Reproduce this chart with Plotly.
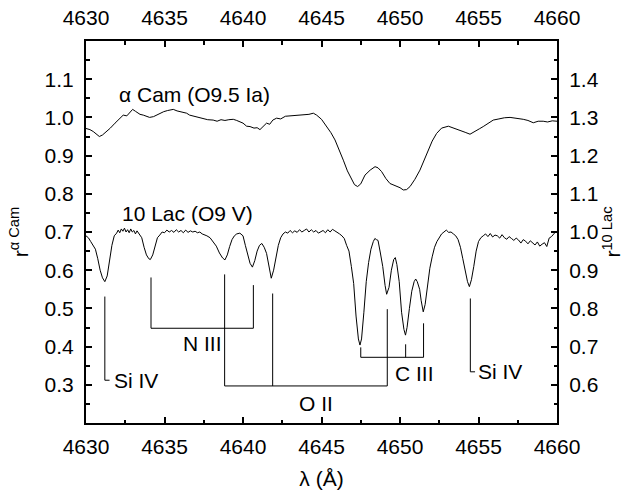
import plotly.graph_objects as go

# ---------------- data ----------------
# alpha Cam spectrum (left axis, r^alpha Cam)
acam_wl = [4630.00, 4630.25, 4630.46, 4630.65, 4630.85, 4631.05, 4631.31, 4631.55, 4631.85, 4632.1,
           4632.37, 4632.6, 4632.8, 4632.97, 4633.15, 4633.3, 4633.44, 4633.65, 4633.86, 4634.05,
           4634.3, 4634.5, 4634.71, 4634.95, 4635.2, 4635.4, 4635.56, 4635.8, 4636.05, 4636.25,
           4636.41, 4636.6, 4636.8, 4637.0, 4637.26, 4637.5, 4637.75, 4638.1, 4638.35, 4638.6,
           4638.85, 4639.1, 4639.38, 4639.6, 4639.81, 4640.0, 4640.23, 4640.45, 4640.7, 4640.9,
           4641.08, 4641.3, 4641.5, 4641.7, 4641.9, 4642.14, 4642.4, 4642.7, 4643.0, 4643.3,
           4643.6, 4643.9, 4644.2, 4644.48, 4644.69, 4645.0, 4645.33, 4645.6, 4645.86, 4646.1,
           4646.39, 4646.65, 4646.92, 4647.1, 4647.3, 4647.5, 4647.77, 4648.1, 4648.41, 4648.6,
           4648.83, 4649.1, 4649.36, 4649.58, 4649.78, 4650.0, 4650.21, 4650.42, 4650.64, 4650.95,
           4651.27, 4651.55, 4651.8, 4652.05, 4652.33, 4652.65, 4653.08, 4653.45, 4653.82, 4654.15,
           4654.46, 4654.8, 4655.05, 4655.3, 4655.6, 4655.94, 4656.3, 4656.65, 4657.01, 4657.4,
           4657.85, 4658.15, 4658.49, 4658.8, 4659.12, 4659.4, 4659.7, 4660.0]
acam_r = [0.971, 0.968, 0.963, 0.957, 0.950, 0.954, 0.963, 0.972, 0.985, 0.995,
          1.006, 1.004, 1.013, 1.021, 1.016, 1.012, 1.008, 1.006, 1.002, 1.000,
          1.002, 1.006, 1.011, 1.015, 1.018, 1.020, 1.021, 1.017, 1.014, 1.012,
          1.011, 1.006, 1.004, 1.001, 0.998, 0.996, 0.994, 0.993, 0.990, 0.994,
          0.992, 0.994, 0.995, 0.992, 0.989, 0.985, 0.977, 0.976, 0.972, 0.973,
          0.968, 0.976, 0.985, 0.982, 0.993, 0.998, 0.996, 1.003, 1.004, 1.005,
          1.006, 1.007, 1.008, 1.011, 1.006, 0.995, 0.976, 0.960, 0.941, 0.918,
          0.888, 0.860, 0.836, 0.824, 0.819, 0.826, 0.849, 0.862, 0.871, 0.868,
          0.858, 0.840, 0.827, 0.823, 0.820, 0.816, 0.810, 0.811, 0.819, 0.838,
          0.862, 0.890, 0.915, 0.938, 0.958, 0.972, 0.977, 0.972, 0.967, 0.961,
          0.956, 0.963, 0.970, 0.976, 0.985, 0.993, 0.996, 0.999, 1.000, 0.998,
          0.995, 0.992, 0.986, 0.990, 0.990, 0.988, 0.991, 0.990]

# 10 Lac spectrum (right axis, r^10 Lac)
lac_wl = [4630.00, 4630.15, 4630.30, 4630.45, 4630.60, 4630.75, 4630.90, 4631.05, 4631.20, 4631.35,
          4631.50, 4631.65, 4631.80, 4631.95, 4632.05, 4632.15, 4632.25, 4632.35, 4632.45, 4632.55,
          4632.65, 4632.75, 4632.85, 4632.95, 4633.05, 4633.15, 4633.25, 4633.35, 4633.45, 4633.55,
          4633.70, 4633.85, 4634.00, 4634.10, 4634.25, 4634.40, 4634.55, 4634.70, 4634.85, 4635.00,
          4635.15, 4635.30, 4635.45, 4635.60, 4635.75, 4635.90, 4636.05, 4636.20, 4636.35, 4636.50,
          4636.65, 4636.80, 4636.95, 4637.10, 4637.25, 4637.40, 4637.55, 4637.70, 4637.90, 4638.10,
          4638.30, 4638.50, 4638.70, 4638.85, 4639.00, 4639.15, 4639.30, 4639.45, 4639.60, 4639.80,
          4640.00, 4640.15, 4640.30, 4640.45, 4640.60, 4640.75, 4640.90, 4641.05, 4641.20, 4641.35,
          4641.50, 4641.65, 4641.80, 4641.95, 4642.10, 4642.25, 4642.40, 4642.55, 4642.70, 4642.85,
          4643.00, 4643.15, 4643.30, 4643.45, 4643.60, 4643.75, 4643.90, 4644.05, 4644.20, 4644.35,
          4644.50, 4644.65, 4644.80, 4644.95, 4645.10, 4645.25, 4645.40, 4645.55, 4645.70, 4645.85,
          4646.00, 4646.15, 4646.30, 4646.45, 4646.60, 4646.75, 4646.90, 4647.05, 4647.20, 4647.35,
          4647.45, 4647.55, 4647.70, 4647.85, 4648.00, 4648.15, 4648.30, 4648.40, 4648.50, 4648.60,
          4648.75, 4648.90, 4649.05, 4649.15, 4649.30, 4649.45, 4649.60, 4649.70, 4649.80, 4649.95,
          4650.10, 4650.25, 4650.35, 4650.45, 4650.60, 4650.75, 4650.90, 4651.00, 4651.10, 4651.25,
          4651.35, 4651.48, 4651.60, 4651.75, 4651.90, 4652.05, 4652.20, 4652.35, 4652.50, 4652.65,
          4652.80, 4652.95, 4653.10, 4653.25, 4653.40, 4653.55, 4653.70, 4653.85, 4654.00, 4654.15,
          4654.30, 4654.42, 4654.55, 4654.70, 4654.85, 4655.00, 4655.15, 4655.30, 4655.45, 4655.60,
          4655.75, 4655.90, 4656.05, 4656.20, 4656.35, 4656.50, 4656.65, 4656.80, 4656.95, 4657.10,
          4657.25, 4657.40, 4657.55, 4657.70, 4657.85, 4658.00, 4658.15, 4658.30, 4658.45, 4658.60,
          4658.75, 4658.90, 4659.05, 4659.20, 4659.35, 4659.50, 4659.65, 4659.80, 4659.90, 4660.00]
lac_r = [0.990, 0.985, 0.975, 0.965, 0.955, 0.930, 0.900, 0.880, 0.870, 0.885,
         0.925, 0.965, 0.990, 0.997, 1.005, 0.998, 1.008, 1.002, 1.010, 1.000,
         1.006, 0.998, 1.008, 1.000, 1.004, 0.995, 1.003, 0.998, 0.990, 0.985,
         0.960, 0.940, 0.930, 0.928, 0.940, 0.965, 0.985, 0.992, 1.000, 0.998,
         1.005, 1.000, 1.004, 0.999, 1.006, 1.000, 1.004, 0.998, 1.005, 0.999,
         1.003, 1.000, 1.002, 0.998, 1.000, 0.995, 0.993, 0.990, 0.985, 0.975,
         0.963, 0.945, 0.932, 0.927, 0.940, 0.962, 0.980, 0.990, 0.995, 0.997,
         0.990, 0.965, 0.940, 0.918, 0.908, 0.925, 0.950, 0.965, 0.970, 0.960,
         0.944, 0.910, 0.879, 0.900, 0.935, 0.965, 0.985, 0.995, 1.000, 0.997,
         1.004, 0.998, 1.003, 0.999, 1.006, 1.000, 1.004, 1.008, 1.000, 1.006,
         1.000, 1.004, 0.997, 1.000, 1.004, 0.998, 1.006, 1.000, 1.007, 1.003,
         1.000, 0.995, 0.990, 0.983, 0.965, 0.950, 0.910, 0.865, 0.780, 0.720,
         0.704, 0.720, 0.790, 0.870, 0.920, 0.955, 0.975, 0.983, 0.980, 0.978,
         0.945, 0.910, 0.860, 0.837, 0.855, 0.900, 0.928, 0.933, 0.915, 0.870,
         0.790, 0.745, 0.730, 0.750, 0.800, 0.845, 0.870, 0.877, 0.870, 0.850,
         0.820, 0.791, 0.810, 0.860, 0.905, 0.935, 0.960, 0.975, 0.985, 0.995,
         1.000, 1.005, 0.999, 1.000, 0.995, 0.990, 0.980, 0.960, 0.930, 0.900,
         0.870, 0.857, 0.875, 0.910, 0.950, 0.975, 0.985, 0.990, 0.995, 0.988,
         0.996, 0.987, 0.992, 0.990, 0.984, 0.993, 0.985, 0.981, 0.988, 0.983,
         0.978, 0.984, 0.979, 0.971, 0.980, 0.976, 0.969, 0.977, 0.972, 0.966,
         0.974, 0.963, 0.968, 0.972, 0.962, 0.984, 0.988, 0.996, 1.000, 0.998]

# line identifications (wavelengths, top of tick marks, level of connecting bar) in r^alpha Cam units
niii_wl = [4634.14, 4640.66]
niii_top = [0.581, 0.561]
niii_bar = 0.448
oii_wl = [4638.83, 4641.89, 4649.19]
oii_top = [0.589, 0.539, 0.498]
oii_bar = 0.297
ciii_wl = [4647.5, 4650.36, 4651.5]
ciii_top = [0.398, 0.406, 0.461]
ciii_bar = 0.372
siiv_wl = [4631.2, 4654.48]
siiv_top = [0.531, 0.526]
siiv_bottom = [0.312, 0.334]
siiv_hook = 0.3

x_ticks = [4630, 4635, 4640, 4645, 4650, 4655, 4660]
yl_ticks = [0.3, 0.4, 0.5, 0.6, 0.7, 0.8, 0.9, 1.0, 1.1]
yr_ticks = [0.6, 0.7, 0.8, 0.9, 1.0, 1.1, 1.2, 1.3, 1.4]

FONT = "Arial"
FS = 21
fig = go.Figure()

# alpha Cam drawn against the top wavelength axis (same scale as bottom)
fig.add_trace(go.Scatter(x=acam_wl, y=acam_r, mode="lines", xaxis="x2", yaxis="y",
                         line=dict(color="black", width=1), showlegend=False, hoverinfo="skip"))
fig.add_trace(go.Scatter(x=lac_wl, y=lac_r, mode="lines", xaxis="x", yaxis="y2",
                         line=dict(color="black", width=1), showlegend=False, hoverinfo="skip"))


def bracket(wls, tops, bar):
    xs, ys = [], []
    for w, t in zip(wls, tops):
        xs += [w, w, None]
        ys += [t, bar, None]
    xs += [min(wls), max(wls)]
    ys += [bar, bar]
    return xs, ys


for wls, tops, bar in [(niii_wl, niii_top, niii_bar), (oii_wl, oii_top, oii_bar), (ciii_wl, ciii_top, ciii_bar)]:
    xs, ys = bracket(wls, tops, bar)
    fig.add_trace(go.Scatter(x=xs, y=ys, mode="lines", xaxis="x", yaxis="y",
                             line=dict(color="black", width=1), showlegend=False, hoverinfo="skip"))
for w, t, b in zip(siiv_wl, siiv_top, siiv_bottom):
    fig.add_trace(go.Scatter(x=[w, w, w + siiv_hook], y=[t, b, b], mode="lines", xaxis="x", yaxis="y",
                             line=dict(color="black", width=1), showlegend=False, hoverinfo="skip"))

txt = dict(family=FONT, size=FS, color="black")
annotations = [
    dict(x=4631.95, y=1.059, text="α Cam (O9.5 Ia)", xanchor="left", yanchor="middle"),
    dict(x=4632.17, y=0.749, text="10 Lac (O9 V)", xanchor="left", yanchor="middle"),
    dict(x=siiv_wl[0] + siiv_hook + 0.15, y=siiv_bottom[0], text="Si IV", xanchor="left", yanchor="middle"),
    dict(x=siiv_wl[1] + siiv_hook + 0.05, y=siiv_bottom[1], text="Si IV", xanchor="left", yanchor="middle"),
    dict(x=4637.4, y=0.407, text="N III", xanchor="center", yanchor="middle"),
    dict(x=4644.65, y=0.251, text="O II", xanchor="center", yanchor="middle"),
    dict(x=4650.93, y=0.330, text="C III", xanchor="center", yanchor="middle"),
]
for a in annotations:
    a.update(xref="x", yref="y", showarrow=False, font=txt)

axis_common = dict(showline=True, linecolor="black", linewidth=2, ticks="inside", ticklen=6,
                   tickwidth=1.5, tickcolor="black", showgrid=False, zeroline=False, automargin=False,
                   tickfont=dict(family=FONT, size=FS, color="black"), mirror=False)
minor_x = dict(dtick=2.5, tick0=4630, ticks="inside", ticklen=3.5, tickcolor="black", tickwidth=1.5)

fig.update_layout(
    width=628, height=491,
    margin=dict(l=86, r=71, t=41, b=68),
    paper_bgcolor="white", plot_bgcolor="white",
    annotations=annotations,
    xaxis=dict(range=[4630, 4660], tickvals=x_ticks, ticktext=[str(v) for v in x_ticks],
               minor=minor_x, anchor="y",
               title=dict(text="λ (Å)", font=dict(family=FONT, size=FS, color="black"), standoff=14),
               ticklabelstandoff=4, **axis_common),
    xaxis2=dict(range=[4630, 4660], overlaying="x", side="top", anchor="y",
                tickvals=x_ticks, ticktext=[str(v) for v in x_ticks],
                minor=minor_x, ticklabelstandoff=6, **axis_common),
    yaxis=dict(range=[0.2, 1.2], tickvals=yl_ticks, ticktext=[f"{v:.1f}" for v in yl_ticks],
               minor=dict(dtick=0.05, tick0=0.2, ticks="inside", ticklen=3.5, tickcolor="black", tickwidth=1.5),
               title=dict(text="r<sup>α Cam</sup>", font=dict(family=FONT, size=FS, color="black"), standoff=10),
               ticklabelstandoff=6, **axis_common),
    yaxis2=dict(range=[0.5, 1.5], overlaying="y", side="right", anchor="x",
                tickvals=yr_ticks, ticktext=[f"{v:.1f}" for v in yr_ticks],
                minor=dict(dtick=0.05, tick0=0.5, ticks="inside", ticklen=3.5, tickcolor="black", tickwidth=1.5),
                title=dict(text="r<sup>10 Lac</sup>", font=dict(family=FONT, size=FS, color="black"), standoff=8),
                ticklabelstandoff=6, **axis_common),
)

fig.write_html("out.html")
